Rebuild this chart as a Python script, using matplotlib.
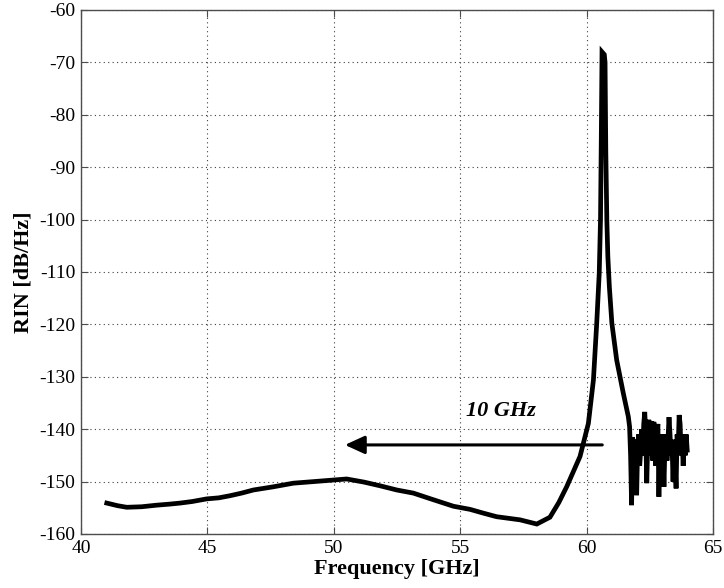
import numpy as np
import matplotlib.pyplot as plt
from matplotlib.patches import ArrowStyle

plt.rcParams['font.family'] = ['Liberation Serif', 'DejaVu Serif']
plt.rcParams['axes.unicode_minus'] = False

# 噪声基底（低频段）
base_f = [41.02, 41.45, 41.81, 42.4, 42.99, 43.5, 43.92, 44.4, 44.97, 45.45, 45.89,
          46.35, 46.82, 47.6, 48.4, 49.2, 49.98, 50.51, 51.2, 51.83, 52.49, 53.15,
          53.9, 54.73, 55.39, 55.9, 56.44, 57.37, 58.03, 58.55, 58.9, 59.21, 59.74,
          60.07, 60.27]
base_rin = [-154.1, -154.6, -154.9, -154.8, -154.5, -154.3, -154.1, -153.8, -153.3, -153.1, -152.7,
            -152.2, -151.6, -151.0, -150.3, -150.0, -149.7, -149.5, -150.1, -150.8, -151.6, -152.2,
            -153.4, -154.7, -155.3, -156.0, -156.7, -157.3, -158.1, -156.8, -154.0, -151.0, -145.2,
            -138.9, -130.6]

# 弛豫振荡峰
peak_f = [60.4, 60.5, 60.55, 60.58, 60.61, 60.7, 60.73, 60.76, 60.8, 60.84, 60.9,
          61.0, 61.19, 61.45, 61.65]
peak_rin = [-119.8, -110.2, -100.0, -85.0, -68.0, -68.5, -70.0, -87.0, -100.0, -107.0, -112.8,
            -119.8, -126.8, -133.1, -137.6]

# 高频段噪声
noise_f = [61.70, 61.74, 61.78, 61.82, 61.86, 61.90, 61.94, 61.98, 62.02, 62.06, 62.10,
           62.14, 62.18, 62.22, 62.26, 62.30, 62.34, 62.38, 62.42, 62.46, 62.50, 62.54,
           62.58, 62.62, 62.66, 62.70, 62.74, 62.78, 62.82, 62.86, 62.90, 62.94, 62.98,
           63.02, 63.06, 63.10, 63.14, 63.18, 63.22, 63.26, 63.30, 63.34, 63.38, 63.42,
           63.46, 63.50, 63.54, 63.58, 63.62, 63.66, 63.70, 63.74, 63.78, 63.82, 63.86,
           63.90, 63.94, 63.98]
noise_rin = [-139.5, -145.0, -154.5, -141.5, -146.0, -142.0, -144.0, -152.6, -143.0, -141.0, -147.0,
             -144.0, -140.0, -145.0, -139.0, -136.7, -141.0, -150.3, -142.0, -138.2, -145.0, -139.0,
             -138.5, -146.0, -138.6, -143.0, -147.0, -141.0, -139.0, -152.9, -142.0, -146.0, -141.0,
             -144.0, -151.0, -143.0, -141.0, -146.0, -142.0, -137.7, -141.0, -145.0, -143.0, -150.0,
             -142.0, -146.0, -151.3, -141.0, -144.0, -137.3, -139.0, -145.0, -142.0, -147.0, -141.0,
             -145.0, -141.0, -144.0]

freq = np.array(base_f + peak_f + noise_f)
rin = np.array(base_rin + peak_rin + noise_rin)

x_ticks = [40, 45, 50, 55, 60, 65]
y_ticks = list(range(-160, -50, 10))

fig = plt.figure(figsize=(7.24, 5.88), dpi=100)
ax = fig.add_axes([81 / 724, 54 / 588, 632 / 724, 524 / 588])

ax.plot(freq, rin, color='black', lw=3.4, solid_joinstyle='miter', zorder=3)

ax.set_xlim(40, 65)
ax.set_ylim(-160, -60)
ax.set_xticks(x_ticks)
ax.set_yticks(y_ticks)
ax.grid(True, color='0.25', linestyle=(0, (1, 3)), linewidth=0.8)

ax.tick_params(direction='in', top=True, right=True, length=5, width=0.8,
               color='0.3', labelsize=14, pad=4)
for s in ax.spines.values():
    s.set_color('0.3')
    s.set_linewidth(1.0)

ax.set_xlabel('Frequency [GHz]', fontsize=16, fontweight='bold', labelpad=2)
ax.set_ylabel('RIN [dB/Hz]', fontsize=16, fontweight='bold', labelpad=4)

# 10 GHz 箭头
ax.annotate('', xy=(50.44, -143), xytext=(60.62, -143),
            arrowprops=dict(arrowstyle=ArrowStyle('-|>', head_length=1.2, head_width=0.55),
                            mutation_scale=10, color='black', lw=2.2,
                            shrinkA=0, shrinkB=0), zorder=4)
ax.text(56.6, -136.5, '10 GHz', fontsize=16, fontweight='bold', fontstyle='italic',
        ha='center', va='center')

fig.savefig('out.png', dpi=100)
